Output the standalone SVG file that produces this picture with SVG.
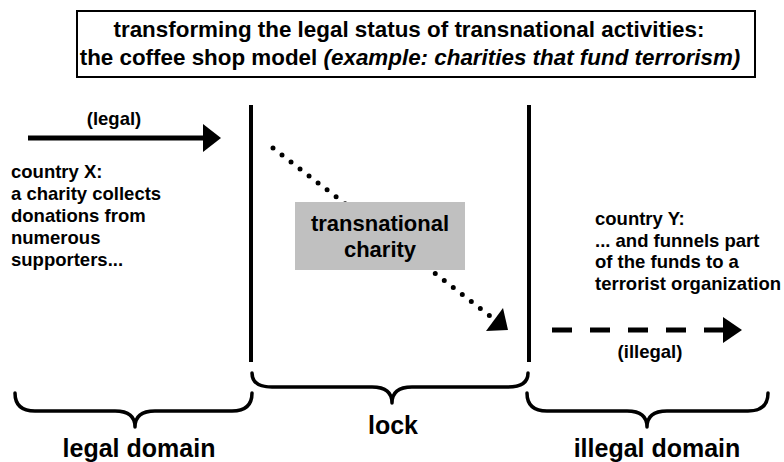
<svg xmlns="http://www.w3.org/2000/svg" width="784" height="462" viewBox="0 0 784 462">
<style>
text{font-family:"Liberation Sans",Arial,sans-serif;font-weight:bold;fill:#000}
.t18{font-size:18.5px}
.brace{fill:none;stroke:#000;stroke-width:3.5;stroke-linecap:round;stroke-linejoin:round}
.wall{stroke:#000;stroke-width:4}
.lbl{font-size:25px;text-anchor:middle}
</style>
<rect width="784" height="462" fill="#fff"/>
<g id="title">
<rect x="77" y="11" width="678" height="66" fill="#fff" stroke="#000" stroke-width="2"/>
<text x="409" y="37" font-size="22.4" text-anchor="middle">transforming the legal status of transnational activities:</text>
<text x="410" y="65" font-size="22.4" text-anchor="middle">the coffee shop model <tspan font-style="italic">(example: charities that fund terrorism)</tspan></text>
</g>
<g id="walls">
<line class="wall" x1="251" y1="105" x2="251" y2="362"/>
<line class="wall" x1="529" y1="105" x2="529" y2="362"/>
</g>
<g id="connectors">
<line x1="28" y1="138" x2="205" y2="138" stroke="#000" stroke-width="5"/>
<polygon points="203,124 221,138 203,152"/>
<line x1="273" y1="148" x2="490" y2="316" stroke="#000" stroke-width="5" stroke-linecap="round" stroke-dasharray="0 11.4"/>
<polygon points="486,331 508,330 503,308"/>
<line x1="552" y1="330" x2="726" y2="330" stroke="#000" stroke-width="5" stroke-dasharray="20 18"/>
<polygon points="723,317 742,330 723,343"/>
</g>
<g id="legal-label"><text class="t18" x="114" y="125" text-anchor="middle">(legal)</text></g>
<g id="country-x">
<text class="t18" x="11" y="178">country X:</text>
<text class="t18" x="11" y="200">a charity collects</text>
<text class="t18" x="11" y="222">donations from</text>
<text class="t18" x="11" y="244">numerous</text>
<text class="t18" x="11" y="266">supporters...</text>
</g>
<g id="charity">
<rect x="295" y="202" width="170" height="68" fill="#c0c0c0"/>
<text x="380" y="231" font-size="22" text-anchor="middle">transnational</text>
<text x="380" y="257" font-size="22" text-anchor="middle">charity</text>
</g>
<g id="country-y">
<text class="t18" x="595" y="225">country Y:</text>
<text class="t18" x="595" y="247">... and funnels part</text>
<text class="t18" x="595" y="268">of the funds to a</text>
<text class="t18" x="595" y="290">terrorist organization</text>
</g>
<g id="illegal-label"><text class="t18" x="650" y="358" text-anchor="middle">(illegal)</text></g>
<g id="legal-domain">
<path class="brace" d="M15,393 Q15,411 35,411 L115,411 Q135,411 135,427 Q135,411 155,411 L232,411 Q252,411 252,393"/>
<text class="lbl" x="139" y="457">legal domain</text>
</g>
<g id="lock">
<path class="brace" d="M252,373 Q252,387 272,387 L372,387 Q392,387 392,403 Q392,387 412,387 L508,387 Q528,387 528,373"/>
<text class="lbl" x="393" y="434">lock</text>
</g>
<g id="illegal-domain">
<path class="brace" d="M527,393 Q527,411 547,411 L627,411 Q647,411 647,427 Q647,411 667,411 L748,411 Q768,411 768,393"/>
<text class="lbl" x="657" y="457">illegal domain</text>
</g>
</svg>
